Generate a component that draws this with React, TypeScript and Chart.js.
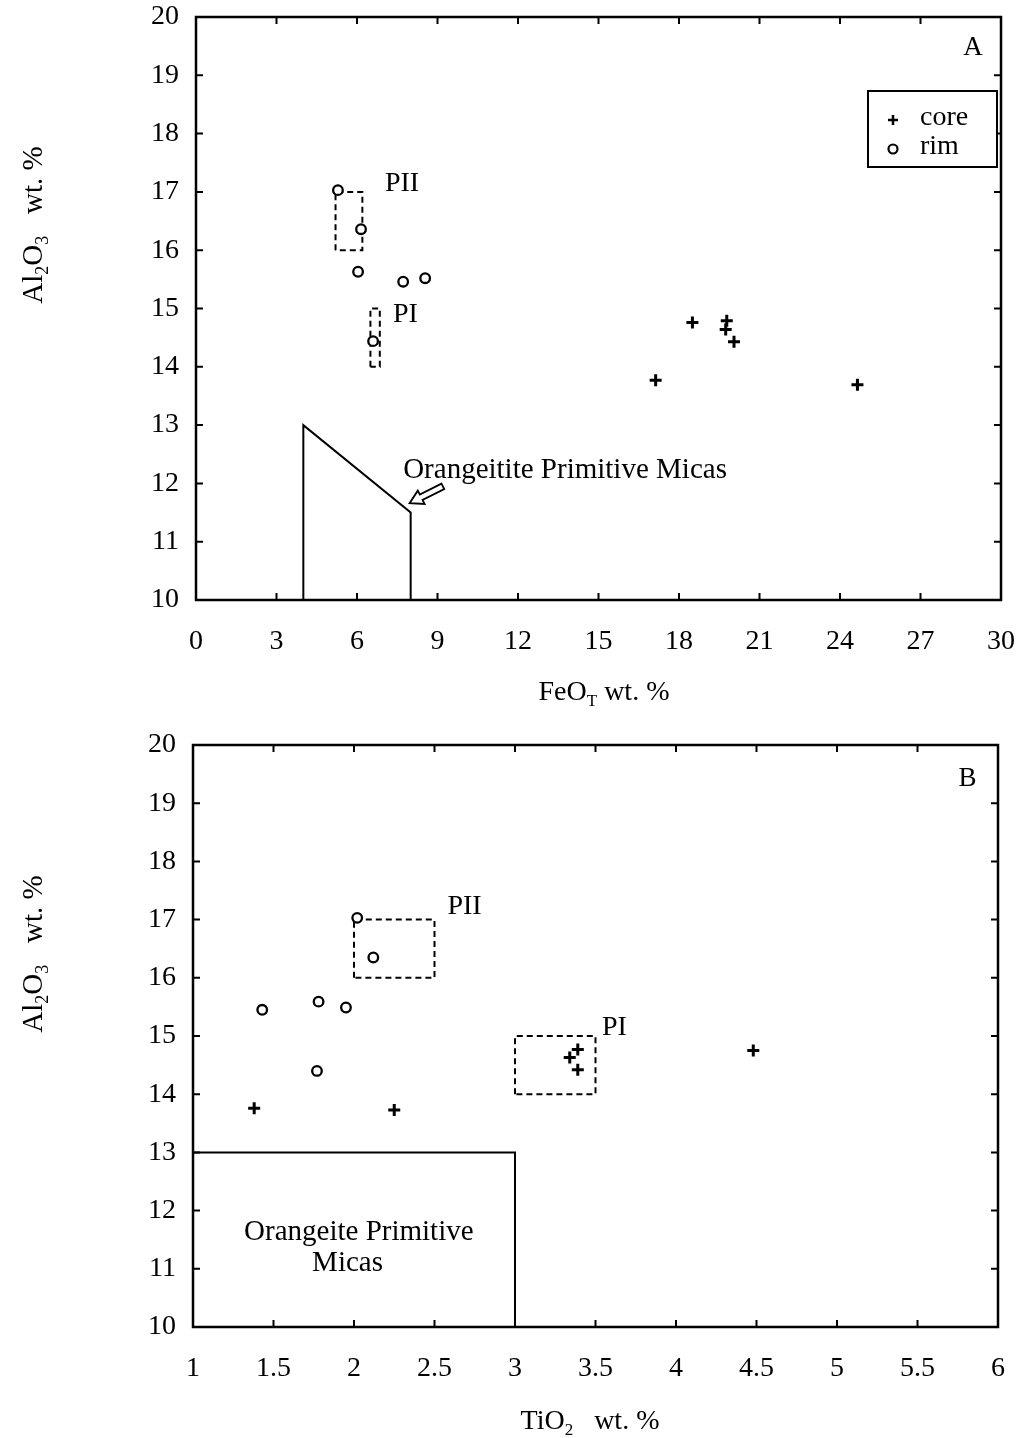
import React, { useEffect, useRef } from "react";
import { Chart, registerables } from "chart.js";

Chart.register(...registerables);

const FONT = '"Liberation Serif", "Times New Roman", serif';

// ---------- Panel A : Al2O3 vs FeO_T ----------
const aCoreFeO = [18.5, 19.78, 19.74, 20.05, 17.13, 24.65];
const aCoreAl = [14.76, 14.79, 14.64, 14.43, 13.77, 13.69];
const aRimFeO = [5.29, 6.15, 6.04, 7.72, 8.54, 6.6];
const aRimAl = [17.03, 16.36, 15.63, 15.46, 15.52, 14.44];
const aFieldX = [4, 4, 8, 8];
const aFieldY = [10, 13, 11.5, 10];
const aPIIBoxX = [5.2, 5.2, 6.2, 6.2, 5.2];
const aPIIBoxY = [16, 17, 17, 16, 16];
const aPIBoxX = [6.5, 6.5, 6.85, 6.85, 6.5];
const aPIBoxY = [14, 15, 15, 14, 14];
const aXTicks = { min: 0, max: 30, step: 3 };
const aYTicks = { min: 10, max: 20, step: 1 };

// ---------- Panel B : Al2O3 vs TiO2 ----------
const bCoreTi = [3.39, 3.34, 3.39, 4.48, 1.38, 2.25];
const bCoreAl = [14.77, 14.63, 14.42, 14.75, 13.76, 13.73];
const bRimTi = [2.02, 2.12, 1.78, 1.95, 1.43, 1.77];
const bRimAl = [17.03, 16.35, 15.59, 15.49, 15.45, 14.4];
const bFieldX = [1, 1, 3, 3];
const bFieldY = [10, 13, 13, 10];
const bPIIBoxX = [2, 2, 2.5, 2.5, 2];
const bPIIBoxY = [16, 17, 17, 16, 16];
const bPIBoxX = [3, 3, 3.5, 3.5, 3];
const bPIBoxY = [14, 15, 15, 14, 14];
const bXTicks = { min: 1, max: 6, step: 0.5 };
const bYTicks = { min: 10, max: 20, step: 1 };

const legendLabels = ["core", "rim"];

type Part = { t: string; sub?: boolean };
type TextItem = { text: string; x: number; y: number; align: CanvasTextAlign; size: number };

const yTitle: Part[] = [{ t: "Al" }, { t: "2", sub: true }, { t: "O" }, { t: "3", sub: true }, { t: "   wt. %" }];
const aXTitle: Part[] = [{ t: "FeO" }, { t: "T", sub: true }, { t: " wt. %" }];
const bXTitle: Part[] = [{ t: "TiO" }, { t: "2", sub: true }, { t: "   wt. %" }];

const aTexts: TextItem[] = [
  { text: "PII", x: 7.04, y: 17.15, align: "left", size: 28 },
  { text: "PI", x: 7.34, y: 14.89, align: "left", size: 28 },
  { text: "Orangeitite Primitive Micas", x: 7.72, y: 12.23, align: "left", size: 29 },
  { text: "A", x: 28.96, y: 19.47, align: "center", size: 27 },
];
const bTexts: TextItem[] = [
  { text: "PII", x: 2.58, y: 17.22, align: "left", size: 28 },
  { text: "PI", x: 3.54, y: 15.15, align: "left", size: 28 },
  { text: "Orangeite Primitive", x: 2.03, y: 11.62, align: "center", size: 29 },
  { text: "Micas", x: 1.96, y: 11.1, align: "center", size: 29 },
  { text: "B", x: 5.81, y: 19.42, align: "center", size: 27 },
];

function pts(xs: number[], ys: number[]) {
  return xs.map((x, i) => ({ x, y: ys[i] }));
}

function drawRich(ctx: CanvasRenderingContext2D, parts: Part[], size: number) {
  const subSize = Math.round(size * 0.62);
  let total = 0;
  const widths = parts.map((p) => {
    ctx.font = `${p.sub ? subSize : size}px ${FONT}`;
    const w = ctx.measureText(p.t).width;
    total += w;
    return w;
  });
  let x = -total / 2;
  ctx.textAlign = "left";
  ctx.textBaseline = "alphabetic";
  parts.forEach((p, i) => {
    ctx.font = `${p.sub ? subSize : size}px ${FONT}`;
    ctx.fillText(p.t, x, p.sub ? size * 0.22 + size * 0.34 : size * 0.34);
    x += widths[i];
  });
}

type DecorCfg = {
  xTitle: Part[];
  xTitlePos: [number, number];
  yTitlePos: [number, number];
  texts: TextItem[];
  arrow?: { tip: [number, number]; tail: [number, number] };
  legend?: boolean;
};

function makeDecor(cfg: DecorCfg) {
  return {
    id: "decor",
    afterDatasetsDraw(chart: any) {
      const ctx: CanvasRenderingContext2D = chart.ctx;
      const ca = chart.chartArea;
      const xs = chart.scales.x;
      const ys = chart.scales.y;
      ctx.save();
      ctx.strokeStyle = "#000";
      ctx.fillStyle = "#000";
      // frame
      ctx.lineWidth = 2.5;
      ctx.strokeRect(ca.left, ca.top, ca.right - ca.left, ca.bottom - ca.top);
      // inward ticks
      ctx.lineWidth = 2;
      const tl = 7;
      ctx.beginPath();
      xs.ticks.forEach((t: any) => {
        const px = xs.getPixelForValue(t.value);
        ctx.moveTo(px, ca.bottom);
        ctx.lineTo(px, ca.bottom - tl);
        ctx.moveTo(px, ca.top);
        ctx.lineTo(px, ca.top + tl);
      });
      ys.ticks.forEach((t: any) => {
        const py = ys.getPixelForValue(t.value);
        ctx.moveTo(ca.left, py);
        ctx.lineTo(ca.left + tl, py);
        ctx.moveTo(ca.right, py);
        ctx.lineTo(ca.right - tl, py);
      });
      ctx.stroke();
      // texts
      cfg.texts.forEach((t) => {
        ctx.font = `${t.size}px ${FONT}`;
        ctx.textAlign = t.align;
        ctx.textBaseline = "middle";
        ctx.fillText(t.text, xs.getPixelForValue(t.x), ys.getPixelForValue(t.y));
      });
      // arrow
      if (cfg.arrow) {
        const tx = xs.getPixelForValue(cfg.arrow.tip[0]);
        const ty = ys.getPixelForValue(cfg.arrow.tip[1]);
        const sx = xs.getPixelForValue(cfg.arrow.tail[0]);
        const sy = ys.getPixelForValue(cfg.arrow.tail[1]);
        const len = Math.hypot(tx - sx, ty - sy);
        const dx = (tx - sx) / len;
        const dy = (ty - sy) / len;
        const nx = -dy;
        const ny = dx;
        const hl = 13, hw = 7.5, sw = 3;
        const neckX = tx - dx * hl;
        const neckY = ty - dy * hl;
        ctx.beginPath();
        ctx.moveTo(sx + nx * sw, sy + ny * sw);
        ctx.lineTo(neckX + nx * sw, neckY + ny * sw);
        ctx.lineTo(neckX + nx * hw, neckY + ny * hw);
        ctx.lineTo(tx, ty);
        ctx.lineTo(neckX - nx * hw, neckY - ny * hw);
        ctx.lineTo(neckX - nx * sw, neckY - ny * sw);
        ctx.lineTo(sx - nx * sw, sy - ny * sw);
        ctx.closePath();
        ctx.fillStyle = "#fff";
        ctx.fill();
        ctx.lineWidth = 1.8;
        ctx.stroke();
        ctx.fillStyle = "#000";
      }
      // legend
      if (cfg.legend) {
        const lx = ca.right - 133;
        const ly = ca.top + 74;
        ctx.lineWidth = 2;
        ctx.fillStyle = "#fff";
        ctx.fillRect(lx, ly, 129, 76);
        ctx.strokeRect(lx, ly, 129, 76);
        ctx.fillStyle = "#000";
        const sxp = lx + 25;
        const y1 = ly + 29;
        const y2 = ly + 58;
        ctx.lineWidth = 2.5;
        ctx.beginPath();
        ctx.moveTo(sxp - 5, y1);
        ctx.lineTo(sxp + 5, y1);
        ctx.moveTo(sxp, y1 - 5);
        ctx.lineTo(sxp, y1 + 5);
        ctx.stroke();
        ctx.lineWidth = 2.2;
        ctx.beginPath();
        ctx.arc(sxp, y2, 4.5, 0, Math.PI * 2);
        ctx.stroke();
        ctx.font = `28px ${FONT}`;
        ctx.textAlign = "left";
        ctx.textBaseline = "middle";
        ctx.fillText(legendLabels[0], lx + 52, y1 - 2);
        ctx.fillText(legendLabels[1], lx + 52, y2 - 2);
      }
      // axis titles
      ctx.fillStyle = "#000";
      ctx.save();
      ctx.translate(cfg.xTitlePos[0], cfg.xTitlePos[1]);
      drawRich(ctx, cfg.xTitle, 28);
      ctx.restore();
      ctx.save();
      ctx.translate(cfg.yTitlePos[0], cfg.yTitlePos[1]);
      ctx.rotate(-Math.PI / 2);
      drawRich(ctx, yTitle, 29);
      ctx.restore();
      ctx.restore();
    },
  };
}

type PanelProps = {
  height: number;
  area: { left: number; right: number; top: number; bottom: number };
  xt: { min: number; max: number; step: number };
  yt: { min: number; max: number; step: number };
  core: { x: number; y: number }[];
  rim: { x: number; y: number }[];
  field: { x: number; y: number }[];
  boxes: { x: number; y: number }[][];
  decor: DecorCfg;
};

function fmt(v: number | string) {
  const n = Number(v);
  return String(Math.round(n * 100) / 100);
}

function Panel(p: PanelProps) {
  const ref = useRef<HTMLCanvasElement | null>(null);
  useEffect(() => {
    if (!ref.current) return;
    const W = 1020;
    const lineDs = (data: { x: number; y: number }[], dashed: boolean) => ({
      type: "scatter" as const,
      data,
      showLine: true,
      borderColor: "#000",
      borderWidth: 2,
      borderDash: dashed ? [6, 4] : [],
      pointRadius: 0,
      fill: false,
      tension: 0,
      order: 5,
    });
    const chart = new Chart(ref.current, {
      type: "scatter",
      data: {
        datasets: [
          {
            label: "core",
            data: p.core,
            pointStyle: "cross",
            pointRadius: 6,
            borderColor: "#000",
            backgroundColor: "#000",
            borderWidth: 3,
            order: 1,
          },
          {
            label: "rim",
            data: p.rim,
            pointStyle: "circle",
            pointRadius: 4.8,
            borderColor: "#000",
            backgroundColor: "#fff",
            borderWidth: 2.3,
            order: 1,
          },
          lineDs(p.field, false) as any,
          ...p.boxes.map((b) => lineDs(b, true) as any),
        ],
      },
      options: {
        responsive: false,
        devicePixelRatio: 1,
        animation: false,
        clip: false as any,
        layout: {
          padding: { left: 0, right: W - p.area.right, top: p.area.top, bottom: 0 },
        },
        plugins: {
          legend: { display: false },
          tooltip: { enabled: false },
        },
        scales: {
          x: {
            type: "linear",
            min: p.xt.min,
            max: p.xt.max,
            grid: { display: false },
            border: { display: false },
            afterFit: (s: any) => {
              s.height = p.height - p.area.bottom;
              s.paddingLeft = 0;
              s.paddingRight = 0;
            },
            ticks: {
              stepSize: p.xt.step,
              autoSkip: false,
              maxRotation: 0,
              color: "#000",
              padding: 17,
              font: { family: FONT, size: 28 },
              callback: (v: any) => fmt(v),
            },
          },
          y: {
            type: "linear",
            min: p.yt.min,
            max: p.yt.max,
            grid: { display: false },
            border: { display: false },
            afterFit: (s: any) => {
              s.width = p.area.left;
              s.paddingTop = 0;
              s.paddingBottom = 0;
            },
            ticks: {
              stepSize: p.yt.step,
              autoSkip: false,
              color: "#000",
              padding: 9,
              font: { family: FONT, size: 28 },
              callback: (v: any) => fmt(v),
            },
          },
        },
      },
      plugins: [makeDecor(p.decor)],
    });
    return () => chart.destroy();
  }, []);
  return <canvas ref={ref} width={1020} height={p.height} style={{ display: "block" }} />;
}

export default function App() {
  return (
    <div style={{ position: "absolute", left: 0, top: 0, width: 1020, height: 1438, background: "#fff" }}>
      <Panel
        height={720}
        area={{ left: 196, right: 1001, top: 17, bottom: 600 }}
        xt={aXTicks}
        yt={aYTicks}
        core={pts(aCoreFeO, aCoreAl)}
        rim={pts(aRimFeO, aRimAl)}
        field={pts(aFieldX, aFieldY)}
        boxes={[pts(aPIIBoxX, aPIIBoxY), pts(aPIBoxX, aPIBoxY)]}
        decor={{
          xTitle: aXTitle,
          xTitlePos: [604, 690],
          yTitlePos: [32, 225],
          texts: aTexts,
          arrow: { tip: [7.96, 11.66], tail: [9.2, 11.95] },
          legend: true,
        }}
      />
      <Panel
        height={718}
        area={{ left: 193, right: 998, top: 25, bottom: 607 }}
        xt={bXTicks}
        yt={bYTicks}
        core={pts(bCoreTi, bCoreAl)}
        rim={pts(bRimTi, bRimAl)}
        field={pts(bFieldX, bFieldY)}
        boxes={[pts(bPIIBoxX, bPIIBoxY), pts(bPIBoxX, bPIBoxY)]}
        decor={{
          xTitle: bXTitle,
          xTitlePos: [590, 699],
          yTitlePos: [32, 234],
          texts: bTexts,
          legend: false,
        }}
      />
    </div>
  );
}
